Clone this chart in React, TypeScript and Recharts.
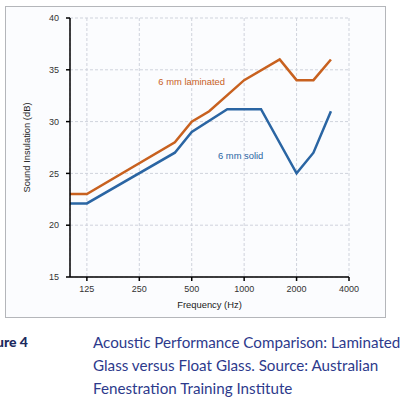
import React from "react";
import { LineChart, Line, XAxis, YAxis, CartesianGrid, ReferenceDot, Label } from "recharts";

const laminatedFreq = [100, 125, 400, 500, 630, 1000, 1600, 2000, 2500, 3150];
const laminatedDb = [23, 23, 28, 30, 31, 34, 36, 34, 34, 36];
const solidFreq = [100, 125, 400, 500, 800, 1250, 2000, 2500, 3150];
const solidDb = [22.1, 22.1, 27, 29, 31.2, 31.2, 25, 27, 31];
const xTicks = [125, 250, 500, 1000, 2000, 4000];
const yTicks = [15, 20, 25, 30, 35, 40];
const seriesLabels = ["6 mm laminated", "6 mm solid"];
const captionTitle = "Figure 4";
const captionLines = [
  "Acoustic Performance Comparison: Laminated",
  "Glass versus Float Glass. Source: Australian",
  "Fenestration Training Institute",
];

const laminated = laminatedFreq.map((f, i) => ({ f, v: laminatedDb[i] }));
const solid = solidFreq.map((f, i) => ({ f, v: solidDb[i] }));

const ORANGE = "#c8611f";
const BLUE = "#2a65a3";
const FONT = "'Liberation Sans', Arial, sans-serif";

export default function App() {
  return (
    <div style={{ position: "absolute", left: 0, top: 0, width: 416, height: 399, background: "#fff", overflow: "hidden" }}>
      <div style={{ position: "absolute", left: 5, top: 6, width: 379, height: 310, border: "1px solid #b4b6ba", background: "#fbfcfe" }} />
      <div style={{ position: "absolute", left: 0, top: 0 }}>
        <LineChart width={416} height={320} margin={{ top: 18, right: 67, bottom: 3, left: 0 }}>
          <CartesianGrid stroke="#cfd3dc" strokeDasharray="3 2" />
          <XAxis
            dataKey="f"
            type="number"
            scale="log"
            domain={[100, 4000]}
            ticks={xTicks}
            allowDataOverflow
            height={40}
            stroke="#000"
            strokeWidth={1.5}
            tickSize={4}
            tickMargin={5}
            tick={{ fontSize: 9, fill: "#333", fontFamily: FONT }}
          >
            <Label value="Frequency (Hz)" position="insideBottom" offset={9} style={{ fontSize: 9.4, fill: "#222", fontFamily: FONT }} />
          </XAxis>
          <YAxis
            type="number"
            domain={[15, 40]}
            ticks={yTicks}
            width={70}
            stroke="#000"
            strokeWidth={1.5}
            tickSize={4}
            tickMargin={7}
            tick={{ fontSize: 9, fill: "#333", fontFamily: FONT }}
          >
            <Label value="Sound Insulation (dB)" angle={-90} position="insideLeft" offset={27} style={{ fontSize: 9.4, fill: "#222", fontFamily: FONT, textAnchor: "middle" }} />
          </YAxis>
          <Line data={laminated} dataKey="v" stroke={ORANGE} strokeWidth={2.5} dot={false} isAnimationActive={false} />
          <Line data={solid} dataKey="v" stroke={BLUE} strokeWidth={2.5} dot={false} isAnimationActive={false} />
          <ReferenceDot x={500} y={33.9} r={0} fill="none" stroke="none">
            <Label value={seriesLabels[0]} position="center" style={{ fontSize: 9.4, fill: ORANGE, fontFamily: FONT }} />
          </ReferenceDot>
          <ReferenceDot x={955} y={26.7} r={0} fill="none" stroke="none">
            <Label value={seriesLabels[1]} position="center" style={{ fontSize: 9.4, fill: BLUE, fontFamily: FONT }} />
          </ReferenceDot>
        </LineChart>
      </div>
      <div style={{ position: "absolute", left: -23, top: 333, fontFamily: "Lato, sans-serif", fontWeight: 900, fontSize: 14, color: "#1c2a5e" }}>
        {captionTitle}
      </div>
      <div style={{ position: "absolute", left: 93, top: 331, fontFamily: "Lato, sans-serif", fontSize: 15.2, lineHeight: "23px", color: "#2d3a8c" }}>
        {captionLines.map((l, i) => (
          <div key={i}>{l}</div>
        ))}
      </div>
    </div>
  );
}
